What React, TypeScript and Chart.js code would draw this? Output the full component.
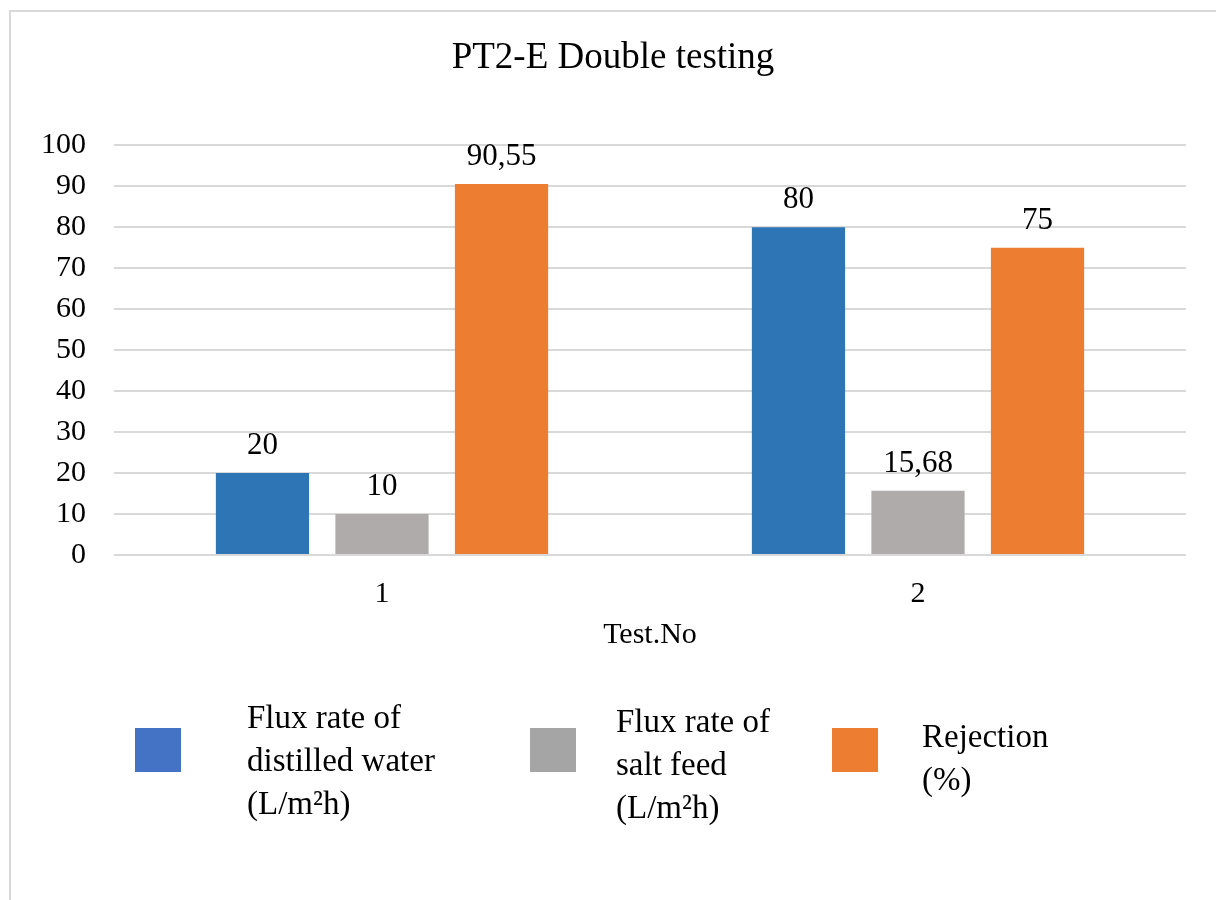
import React, { useEffect, useRef } from "react";
import { Chart, registerables } from "chart.js";

Chart.register(...registerables);

const TITLE = "PT2-E Double testing";
const X_TITLE = "Test.No";
const categories = ["1", "2"];
const distilledFlux = [20, 80];
const saltFeedFlux = [10, 15.68];
const rejection = [90.55, 75];
const seriesLabels = [
  ["Flux rate of", "distilled water", "(L/m²h)"],
  ["Flux rate of", "salt feed", "(L/m²h)"],
  ["Rejection", "(%)"],
];
const barColors = ["#2E75B6", "#AFABAB", "#ED7D31"];
const legendColors = ["#4472C4", "#A5A5A5", "#ED7D31"];
const Y_MIN = 0;
const Y_MAX = 100;
const Y_STEP = 10;

const FONT = "'Liberation Serif', 'Times New Roman', serif";

const frameBorder = {
  id: "frameBorder",
  beforeDraw(chart: any) {
    const { ctx, width, height } = chart;
    ctx.save();
    ctx.fillStyle = "#ffffff";
    ctx.fillRect(0, 0, width, height);
    ctx.strokeStyle = "#d9d9d9";
    ctx.lineWidth = 2;
    ctx.strokeRect(10, 11, width + 20, height + 20);
    ctx.restore();
  },
};

const valueLabels = {
  id: "valueLabels",
  afterDatasetsDraw(chart: any) {
    const { ctx } = chart;
    ctx.save();
    ctx.font = `31px ${FONT}`;
    ctx.fillStyle = "#000";
    ctx.textAlign = "center";
    ctx.textBaseline = "middle";
    chart.data.datasets.forEach((ds: any, i: number) => {
      const meta = chart.getDatasetMeta(i);
      meta.data.forEach((bar: any, j: number) => {
        const v = ds.data[j];
        ctx.fillText(String(v).replace(".", ","), bar.x, bar.y - 27);
      });
    });
    ctx.restore();
  },
};

// legend layout (box left, text left, first baseline)
const legendLayout = [
  { box: 135, text: 247, base: 728 },
  { box: 530, text: 616, base: 732 },
  { box: 832, text: 922, base: 747 },
];

const customLegend = {
  id: "customLegend",
  afterDraw(chart: any) {
    const { ctx } = chart;
    ctx.save();
    ctx.font = `33px ${FONT}`;
    ctx.textAlign = "left";
    ctx.textBaseline = "alphabetic";
    seriesLabels.forEach((lines, i) => {
      const l = legendLayout[i];
      ctx.fillStyle = legendColors[i];
      ctx.fillRect(l.box, 728, 46, 44);
      ctx.fillStyle = "#000";
      lines.forEach((t, k) => {
        ctx.fillText(t, l.text, l.base + k * 43);
      });
    });
    ctx.restore();
  },
};

export default function App() {
  const ref = useRef<HTMLCanvasElement | null>(null);
  useEffect(() => {
    if (!ref.current) return;
    const chart = new Chart(ref.current, {
      type: "bar",
      data: {
        labels: categories,
        datasets: [
          { label: seriesLabels[0].join(" "), data: distilledFlux, backgroundColor: barColors[0] },
          { label: seriesLabels[1].join(" "), data: saltFeedFlux, backgroundColor: barColors[1] },
          { label: seriesLabels[2].join(" "), data: rejection, backgroundColor: barColors[2] },
        ],
      },
      options: {
        responsive: false,
        animation: false,
        devicePixelRatio: 1,
        layout: { padding: { left: 40, right: 30, top: 0, bottom: 245 } },
        datasets: { bar: { categoryPercentage: 0.669, barPercentage: 0.78 } } as any,
        plugins: {
          legend: { display: false },
          tooltip: { enabled: false },
          title: {
            display: true,
            text: TITLE,
            color: "#000",
            font: { family: FONT, size: 37, weight: "normal" },
            padding: { top: 36, bottom: 65 },
          },
        },
        scales: {
          x: {
            grid: { display: false, drawTicks: false },
            border: { display: false },
            ticks: { color: "#000", font: { family: FONT, size: 30 }, padding: 21 },
            title: {
              display: true,
              text: X_TITLE,
              color: "#000",
              font: { family: FONT, size: 30 },
              padding: { top: 0, bottom: 2 },
            },
            afterFit: (s: any) => {
              s.height = 100;
            },
          },
          y: {
            min: Y_MIN,
            max: Y_MAX,
            grid: { color: "#d9d9d9", lineWidth: 2, drawTicks: false },
            border: { display: false },
            ticks: {
              stepSize: Y_STEP,
              color: "#000",
              font: { family: FONT, size: 30 },
              padding: 28,
            },
            afterFit: (s: any) => {
              s.width = 74;
            },
          },
        },
      },
      plugins: [frameBorder, valueLabels, customLegend],
    });
    return () => chart.destroy();
  }, []);
  return (
    <canvas
      ref={ref}
      width={1216}
      height={900}
      style={{ position: "fixed", left: 0, top: 0, width: 1216, height: 900, display: "block" }}
    />
  );
}
